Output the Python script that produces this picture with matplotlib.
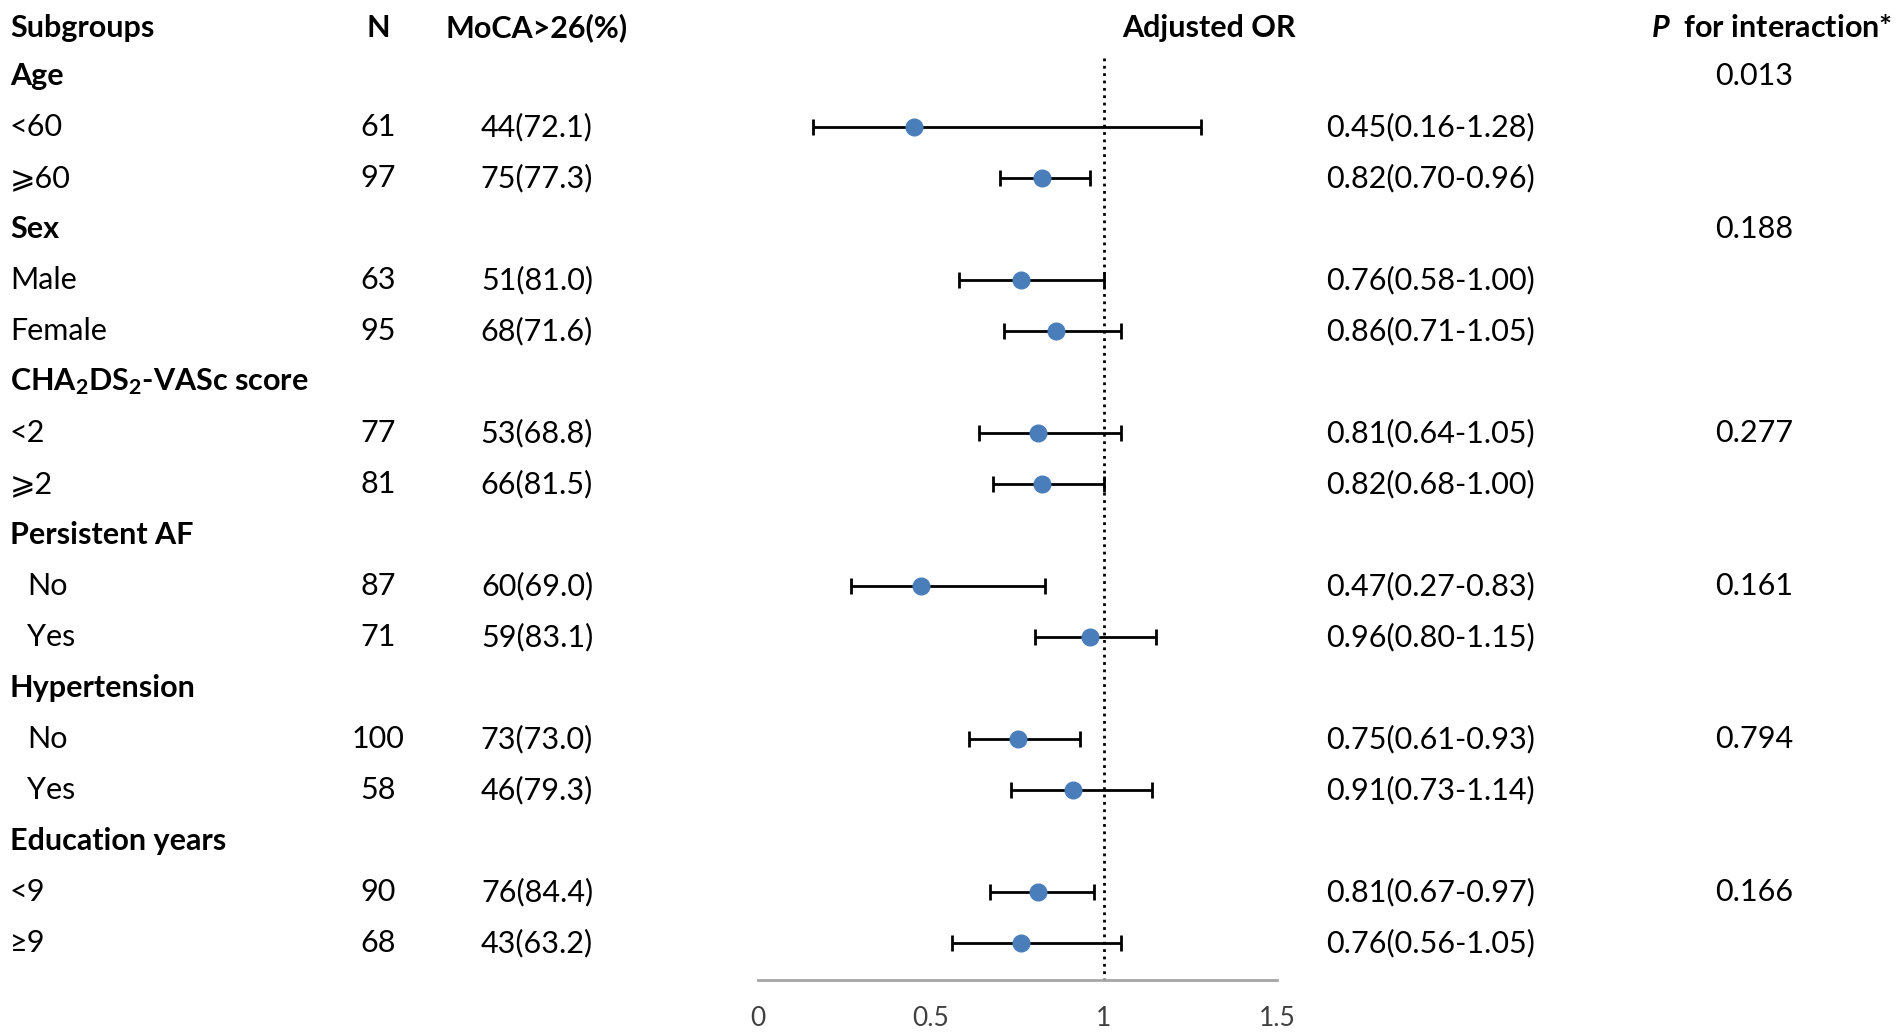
import matplotlib.pyplot as plt
import numpy as np

plt.rcParams['font.family'] = ['Lato', 'DejaVu Sans']
plt.rcParams['mathtext.fontset'] = 'custom'
plt.rcParams['mathtext.rm'] = 'Lato'
plt.rcParams['mathtext.bf'] = 'Lato:bold'
plt.rcParams['mathtext.it'] = 'Lato:italic'
plt.rcParams['mathtext.bfit'] = 'Lato:bold:italic'

# Table rows (group headers have no values)
labels = ['Age', '<60', '\u2a7e60', 'Sex', 'Male', 'Female',
          r'CHA$_\mathbf{2}$DS$_\mathbf{2}$-VASc score', '<2', '\u2a7e2',
          'Persistent AF', 'No', 'Yes', 'Hypertension', 'No', 'Yes',
          'Education years', '<9', '\u22659']
is_group = [1, 0, 0, 1, 0, 0, 1, 0, 0, 1, 0, 0, 1, 0, 0, 1, 0, 0]
indent = [0, 0, 0, 0, 0, 0, 0, 0, 0, 0, 1, 1, 0, 1, 1, 0, 0, 0]
n_vals = ['', '61', '97', '', '63', '95', '', '77', '81', '', '87', '71',
          '', '100', '58', '', '90', '68']
moca = ['', '44(72.1)', '75(77.3)', '', '51(81.0)', '68(71.6)', '', '53(68.8)',
        '66(81.5)', '', '60(69.0)', '59(83.1)', '', '73(73.0)', '46(79.3)',
        '', '76(84.4)', '43(63.2)']
odds = [np.nan, 0.45, 0.82, np.nan, 0.76, 0.86, np.nan, 0.81, 0.82,
        np.nan, 0.47, 0.96, np.nan, 0.75, 0.91, np.nan, 0.81, 0.76]
low = [np.nan, 0.16, 0.70, np.nan, 0.58, 0.71, np.nan, 0.64, 0.68,
       np.nan, 0.27, 0.80, np.nan, 0.61, 0.73, np.nan, 0.67, 0.56]
high = [np.nan, 1.28, 0.96, np.nan, 1.00, 1.05, np.nan, 1.05, 1.00,
        np.nan, 0.83, 1.15, np.nan, 0.93, 1.14, np.nan, 0.97, 1.05]
p_vals = ['0.013', '', '', '0.188', '', '', '', '0.277', '', '', '0.161', '',
          '', '0.794', '', '', '0.166', '']
ticks = [0, 0.5, 1, 1.5]

W, H = 1902, 1032
fig = plt.figure(figsize=(W / 100, H / 100), dpi=100)

# text layer in pixel coordinates
ax = fig.add_axes([0, 0, 1, 1])
ax.set_xlim(0, W)
ax.set_ylim(H, 0)
ax.axis('off')

fs = 22
y_head = 28
rows_y = 76 + np.arange(len(labels)) * 51

ax.text(10, y_head, 'Subgroups', fontsize=fs, weight='bold', va='center')
ax.text(378, y_head, 'N', fontsize=fs, weight='bold', va='center', ha='center')
ax.text(537, y_head, 'MoCA>26(%)', fontsize=fs, weight='bold', va='center', ha='center')
ax.text(1209, y_head, 'Adjusted OR', fontsize=fs, weight='bold', va='center', ha='center')
ax.text(1892, y_head, r'$\mathbfit{P}$  for interaction*', fontsize=fs, weight='bold',
        va='center', ha='right')

for i, y in enumerate(rows_y):
    x0 = 27 if indent[i] else 10
    ax.text(x0, y, labels[i], fontsize=fs, va='center',
            weight='bold' if is_group[i] else 'normal')
    if n_vals[i]:
        ax.text(378, y, n_vals[i], fontsize=fs, va='center', ha='center')
        ax.text(537, y, moca[i], fontsize=fs, va='center', ha='center')
        ax.text(1326, y, f'{odds[i]:.2f}({low[i]:.2f}-{high[i]:.2f})',
                fontsize=fs, va='center')
    if p_vals[i]:
        ax.text(1754, y, p_vals[i], fontsize=fs, va='center', ha='center')

# forest plot
axf = fig.add_axes([758 / W, 0, (1277 - 758) / W, 1])
axf.set_xlim(0, 1.5)
axf.set_ylim(H, 0)
axf.patch.set_visible(False)
for s in ['top', 'left', 'right']:
    axf.spines[s].set_visible(False)
axf.spines['bottom'].set_position(('data', 980))
axf.spines['bottom'].set_color('#a6a6a6')
axf.spines['bottom'].set_linewidth(2)
axf.set_yticks([])
axf.set_xticks(ticks)
axf.set_xticklabels([f'{t:g}' for t in ticks], fontsize=19, color='#404040')
axf.tick_params(axis='x', length=0, pad=19)

odds_a = np.array(odds)
err = [odds_a - np.array(low), np.array(high) - odds_a]
axf.errorbar(odds_a, rows_y, xerr=err, fmt='o', color='#4a7ebb', markersize=12,
             ecolor='black', elinewidth=2, capsize=6, capthick=2)
axf.plot([1, 1], [58, 980], color='black', linestyle=':', linewidth=2, zorder=0)

fig.savefig('out.png', dpi=100)
